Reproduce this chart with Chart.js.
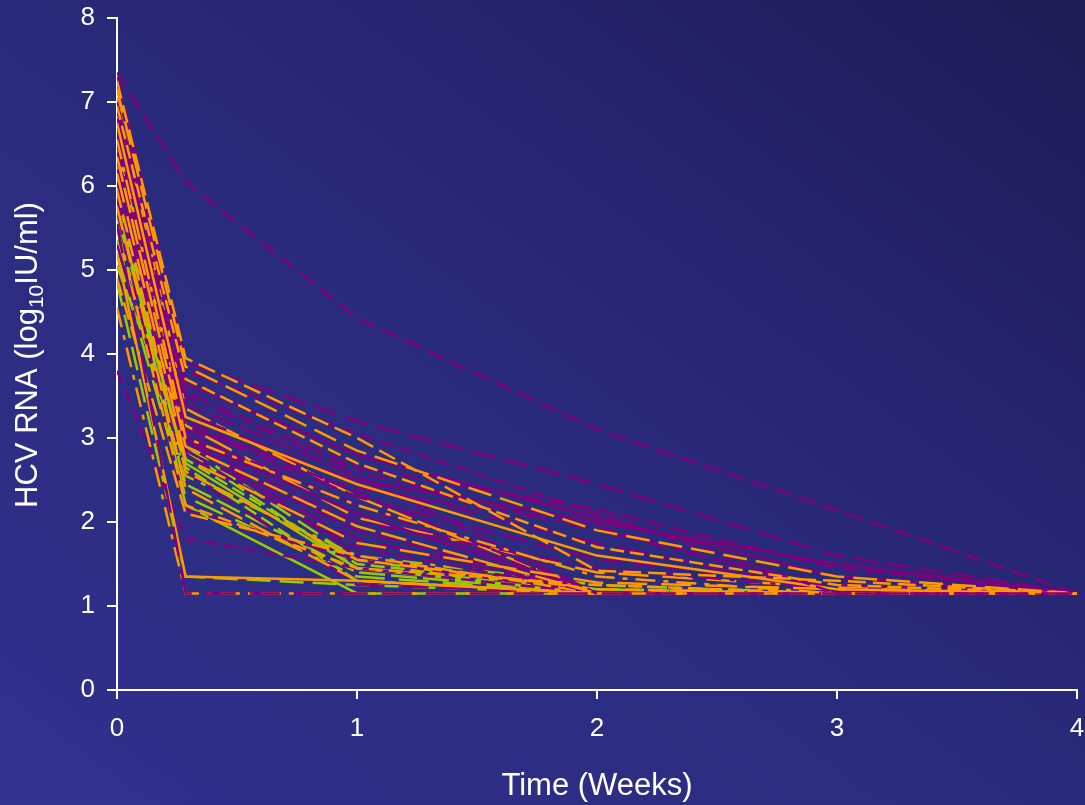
<!DOCTYPE html>
<html>
<head>
<meta charset="utf-8">
<script src="https://cdn.jsdelivr.net/npm/chart.js@4.4.0/dist/chart.umd.min.js"></script>
<style>
  html, body { margin: 0; padding: 0; }
  body {
    width: 1085px; height: 805px; overflow: hidden;
    background: linear-gradient(to top right, #31318f 0%, #2a2a7c 50%, #1f1b56 100%);
  }
  #wrap { position: relative; width: 1085px; height: 805px; }
</style>
</head>
<body>
<div id="wrap"><canvas id="chart"></canvas></div>
<script>
// Sampling times (weeks): baseline, day 2, week 1..4
const weeks = [0, 0.286, 1, 2, 3, 4];
const yTicks = [0, 1, 2, 3, 4, 5, 6, 7, 8];
const xTicks = [0, 1, 2, 3, 4];

// log10 HCV RNA per patient
const purpleSeries = [
    [5.55, 1.15, 1.15, 1.15, 1.15, 1.15],
    [7.35, 6.05, 4.43, 3.10, 2.14, 1.15],
    [7.30, 3.90, 3.20, 2.45, 1.60, 1.15],
    [7.20, 3.80, 3.05, 2.10, 1.15, 1.15],
    [7.00, 3.65, 2.80, 2.05, 1.35, 1.15],
    [6.90, 3.50, 2.60, 1.90, 1.20, 1.15],
    [6.80, 3.40, 2.55, 1.15, 1.15, 1.15],
    [6.70, 3.30, 2.45, 1.75, 1.15, 1.15],
    [6.60, 3.20, 2.35, 1.15, 1.15, 1.15],
    [6.50, 3.15, 2.30, 1.55, 1.25, 1.15],
    [6.40, 3.05, 2.20, 1.15, 1.15, 1.15],
    [6.30, 3.00, 2.10, 1.15, 1.15, 1.15],
    [6.20, 2.95, 2.00, 1.45, 1.20, 1.15],
    [6.05, 2.90, 1.90, 1.15, 1.15, 1.15],
    [5.95, 2.85, 1.80, 1.15, 1.15, 1.15],
    [5.85, 2.80, 1.70, 1.15, 1.15, 1.15],
    [5.70, 2.15, 1.55, 1.15, 1.15, 1.15],
    [3.80, 1.80, 1.45, 1.15, 1.15, 1.15],
    [6.95, 3.10, 2.50, 2.00, 1.50, 1.15],
    [6.65, 2.95, 2.40, 1.95, 1.15, 1.15],
    [6.15, 3.00, 1.60, 1.15, 1.15, 1.15],
    [5.30, 2.60, 1.25, 1.15, 1.15, 1.15],
    [7.25, 3.55, 2.65, 2.15, 1.45, 1.15]
];

const orangeSeries = [
    [7.25, 3.95, 3.00, 1.42, 1.30, 1.15],
    [7.15, 3.85, 2.85, 1.90, 1.35, 1.15],
    [6.95, 3.70, 2.70, 1.70, 1.25, 1.15],
    [6.75, 3.25, 2.45, 1.60, 1.20, 1.15],
    [6.55, 3.00, 2.20, 1.35, 1.15, 1.15],
    [6.35, 2.90, 1.95, 1.15, 1.15, 1.15],
    [6.15, 2.75, 1.75, 1.28, 1.20, 1.15],
    [5.95, 2.60, 1.55, 1.20, 1.15, 1.15],
    [5.75, 2.40, 1.30, 1.15, 1.15, 1.15],
    [5.50, 2.20, 1.45, 1.25, 1.15, 1.15],
    [5.20, 1.35, 1.30, 1.15, 1.15, 1.15],
    [4.55, 1.15, 1.15, 1.15, 1.15, 1.15],
    [7.05, 3.35, 2.30, 1.15, 1.15, 1.15],
    [6.45, 3.15, 2.05, 1.40, 1.22, 1.15],
    [4.90, 2.10, 1.60, 1.15, 1.15, 1.15]
];

const greenSeries = [
    [5.90, 2.90, 1.55, 1.15, 1.15, 1.15],
    [5.80, 2.75, 1.50, 1.20, 1.15, 1.15],
    [5.65, 2.70, 1.45, 1.15, 1.15, 1.15],
    [5.50, 2.55, 1.60, 1.25, 1.15, 1.15],
    [5.35, 2.45, 1.40, 1.15, 1.15, 1.15],
    [5.20, 2.30, 1.35, 1.15, 1.15, 1.15],
    [5.05, 2.85, 1.45, 1.20, 1.15, 1.15],
    [4.85, 1.35, 1.25, 1.15, 1.15, 1.15],
    [5.75, 2.65, 1.30, 1.15, 1.15, 1.15],
    [5.95, 2.20, 1.15, 1.15, 1.15, 1.15]
];

const dashes = [[30, 14], [18, 7], [24, 9], [14, 6], [], [20, 8, 5, 8], [26, 6]];

function makeSet(vals, color, i) {
    return {
        data: weeks.map((w, k) => ({ x: w, y: vals[k] })),
        borderColor: color,
        borderWidth: 2.5,
        borderDash: dashes[i % dashes.length],
        pointRadius: 0,
        tension: 0,
        fill: false
    };
}

// Chart.js paints the first dataset on top:
// purple and orange mixed above, green underneath
const datasets = [];
const n = Math.max(purpleSeries.length, orangeSeries.length);
for (let i = 0; i < n; i++) {
    if (purpleSeries[i]) datasets.push(makeSet(purpleSeries[i], '#800080', i));
    if (orangeSeries[i]) datasets.push(makeSet(orangeSeries[i], '#ff9900', i + 1));
}
greenSeries.forEach((s, i) => datasets.push(makeSet(s, '#99cc00', i + 2)));

// axis titles, drawn by hand for the subscript
const titlesPlugin = {
    id: 'titles',
    afterDraw(chart) {
        const ctx = chart.ctx;
        ctx.save();
        ctx.fillStyle = '#ffffff';
        ctx.textBaseline = 'alphabetic';
        ctx.font = '31px "Liberation Sans", Arial, sans-serif';
        ctx.textAlign = 'center';
        ctx.fillText('Time (Weeks)', 597, 795);

        // y title, rotated
        const big = '31px "Liberation Sans", Arial, sans-serif';
        const small = '21px "Liberation Sans", Arial, sans-serif';
        const a = 'HCV RNA (log', b = '10', c = 'IU/ml)';
        ctx.font = big;
        const wa = ctx.measureText(a).width, wc = ctx.measureText(c).width;
        ctx.font = small;
        const wb = ctx.measureText(b).width;
        const total = wa + wb + wc;
        ctx.translate(37, 355);
        ctx.rotate(-Math.PI / 2);
        ctx.textAlign = 'left';
        let x = -total / 2;
        ctx.font = big;
        ctx.fillText(a, x, 0);
        x += wa;
        ctx.font = small;
        ctx.fillText(b, x, 6);
        x += wb;
        ctx.font = big;
        ctx.fillText(c, x, 0);
        ctx.restore();
    }
};

const tickFont = { family: '"Liberation Sans", Arial, sans-serif', size: 26 };

new Chart(document.getElementById('chart'), {
    type: 'line',
    data: { datasets: datasets },
    options: {
        responsive: true,
        maintainAspectRatio: false,
        animation: false,
        layout: { padding: { top: 18, right: 8, left: 0, bottom: 0 } },
        plugins: { legend: { display: false }, tooltip: { enabled: false } },
        scales: {
            x: {
                type: 'linear',
                min: 0,
                max: 4,
                afterBuildTicks: s => { s.ticks = xTicks.map(v => ({ value: v })); },
                afterFit: s => { s.height = 115; s.paddingLeft = 0; s.paddingRight = 0; },
                ticks: { color: '#ffffff', font: tickFont, padding: 14, maxRotation: 0 },
                grid: { drawOnChartArea: false, drawTicks: true, tickLength: 9, color: '#ffffff', lineWidth: 2 },
                border: { color: '#ffffff', width: 2 }
            },
            y: {
                type: 'linear',
                min: 0,
                max: 8,
                afterBuildTicks: s => { s.ticks = yTicks.map(v => ({ value: v })); },
                afterFit: s => { s.width = 117; s.paddingTop = 0; s.paddingBottom = 0; },
                ticks: { color: '#ffffff', font: tickFont, padding: 12 },
                grid: { drawOnChartArea: false, drawTicks: true, tickLength: 10, color: '#ffffff', lineWidth: 2 },
                border: { color: '#ffffff', width: 2 }
            }
        }
    },
    plugins: [titlesPlugin]
});
</script>
</body>
</html>
